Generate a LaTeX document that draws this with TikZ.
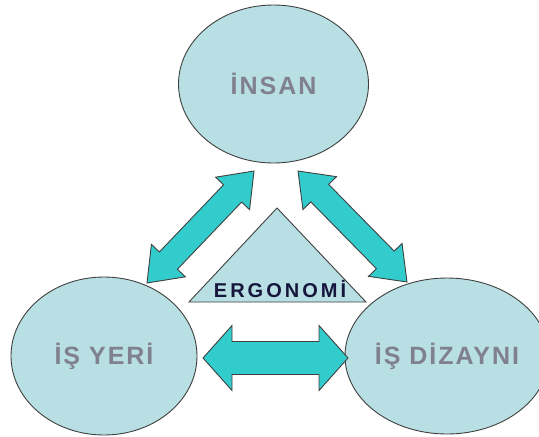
\documentclass[tikz,border=0pt]{standalone}
\usepackage{fontspec}
\setmainfont{Liberation Sans}
\newfontfamily\lblfont[LetterSpace=8]{Liberation Sans}
\newfontfamily\ergofont[LetterSpace=15]{Liberation Sans}
\usetikzlibrary{shapes.geometric, calc}

\definecolor{bubble}{RGB}{184,223,227}
\definecolor{teal2}{RGB}{51,204,204}
\definecolor{lblgray}{RGB}{128,128,142}
\definecolor{ergoink}{RGB}{22,22,60}

% double headed block arrow between two points
% #1 start, #2 end, #3 head length, #4 head half width, #5 shaft half width
\newcommand{\fatarrow}[5]{%
  \coordinate (ha) at ($(#1)!#3!(#2)$);
  \coordinate (hb) at ($(#2)!#3!(#1)$);
  \draw[blockarrow] (#1) -- ($(ha)!#4!90:(#2)$) -- ($(ha)!#5!90:(#2)$)
    -- ($(hb)!#5!-90:(#1)$) -- ($(hb)!#4!-90:(#1)$) -- (#2)
    -- ($(hb)!#4!90:(#1)$) -- ($(hb)!#5!90:(#1)$)
    -- ($(ha)!#5!-90:(#2)$) -- ($(ha)!#4!-90:(#2)$) -- cycle;}

\begin{document}
\begin{tikzpicture}[x=1pt, y=-1pt,
    bubblenode/.style={ellipse, draw=black!75, line width=0.9pt, fill=bubble,
        inner sep=0pt, text=lblgray, font=\lblfont\bfseries\fontsize{25}{28}\selectfont},
    blockarrow/.style={draw=black!75, line width=0.9pt, fill=teal2},
    tri/.style={draw=black!75, line width=0.9pt, fill=bubble}]
    \useasboundingbox (0,0) rectangle (539,437);

    % The three ellipses
    \node[bubblenode, minimum width=190pt, minimum height=158pt] (insan) at (273.5,84) {İNSAN};
    \node[bubblenode, minimum width=186pt, minimum height=158pt] (isyeri) at (104,356) {İŞ YERİ};
    \node[bubblenode, minimum width=184pt, minimum height=156pt] (isdizayni) at (447,356) {İŞ DİZAYNI};

    % Centre triangle
    \draw[tri] (277,208) -- (366,302) -- (189,302) -- cycle;
    \node[text=ergoink, font=\ergofont\bfseries\fontsize{20}{22}\selectfont] (ergo) at (280,289) {ERGONOMİ};

    % Arrow ends
    \coordinate (l1) at (147,283);
    \coordinate (l2) at (254,171);
    \coordinate (r1) at (298,171);
    \coordinate (r2) at (407,282);
    \coordinate (h1) at (203,358);
    \coordinate (h2) at (348,358);

    % Block arrows
    \fatarrow{l1}{l2}{31pt}{23.5pt}{12.5pt}
    \fatarrow{r1}{r2}{31pt}{23.5pt}{12.5pt}
    \fatarrow{h1}{h2}{29pt}{32.5pt}{16.5pt}

\end{tikzpicture}
\end{document}
